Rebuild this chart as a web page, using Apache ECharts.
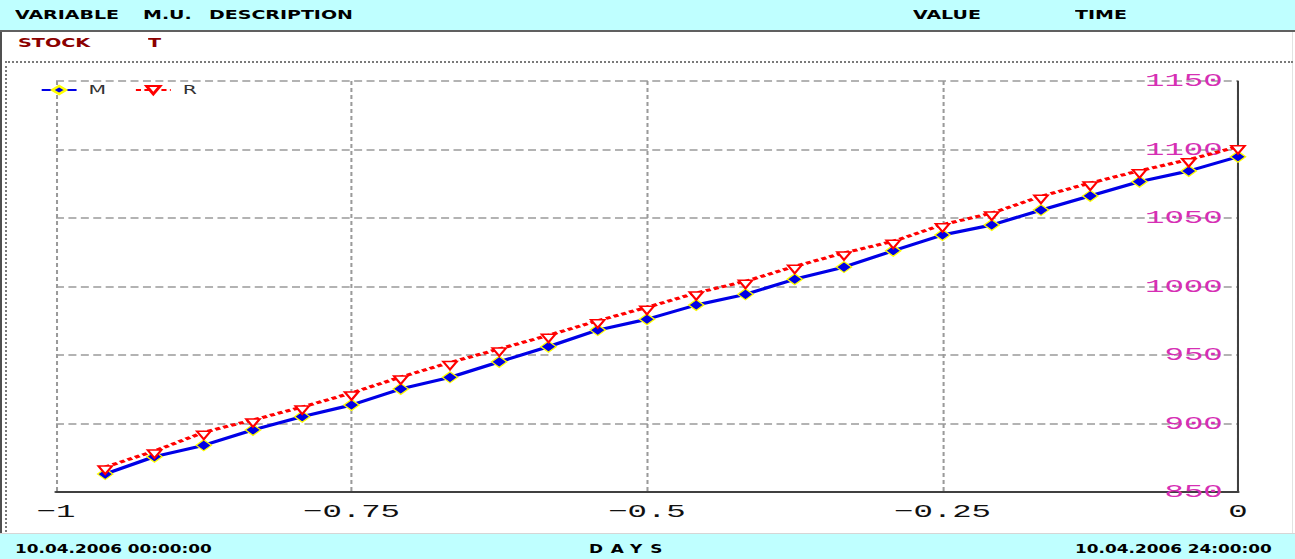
<!DOCTYPE html>
<html>
<head>
<meta charset="utf-8">
<script src="https://cdn.jsdelivr.net/npm/echarts@6/dist/echarts.min.js"></script>
<style>
  html, body { margin: 0; padding: 0; background: #fff; overflow: hidden; }
  #page { position: relative; width: 1295px; height: 559px; overflow: hidden; background: #fff; font-family: "DejaVu Sans", sans-serif; }
  .band { position: absolute; left: 0; width: 1295px; background: #bfffff; }
  #head { top: 0; height: 30px; border-bottom: 2px solid #606060; z-index: 2; }
  #foot { top: 533px; height: 26px; border-top: 1px solid #d6d6d6; }
  #frame { position: absolute; left: 5px; top: 61px; width: 1288px; height: 471px; border-top: 2px dotted #7a7a7a; border-left: 2px dotted #7a7a7a; box-sizing: border-box; }
  #edge { position: absolute; left: 0; top: 32px; width: 2px; height: 501px; background: #505050; }
  #redge { position: absolute; left: 1292px; top: 32px; width: 1px; height: 501px; background: #e2e2e2; }
  .t { position: absolute; white-space: nowrap; transform-origin: 0 50%; font-weight: bold; line-height: 1; z-index: 3; }
  .h { font-size: 11.5px; color: #000; top: 9.5px; transform: scaleX(1.65); }
  .s { font-size: 12px; color: #8b0000; top: 36.5px; transform: scaleX(1.6); }
  .f { font-size: 13px; color: #000; top: 541.8px; transform: scaleX(1.3); }
  #chart { position: absolute; left: 0; top: 0; width: 761px; height: 559px; transform: scaleX(1.7017); transform-origin: 0 0; clip-path: inset(60px 0 27px 0); z-index: 1; }
</style>
</head>
<body>
<div id="page">
  <div id="head" class="band"></div>
  <div id="foot" class="band"></div>
  <div id="edge"></div>
  <div id="redge"></div>
  <div id="frame"></div>

  <span class="t h" style="left:15px">VARIABLE</span>
  <span class="t h" style="left:143px">M.U.</span>
  <span class="t h" style="left:209px">DESCRIPTION</span>
  <span class="t h" style="left:913px">VALUE</span>
  <span class="t h" style="left:1075px">TIME</span>

  <span class="t s" style="left:18px">STOCK</span>
  <span class="t s" style="left:148px">T</span>

  <span class="t f" style="left:15px">10.04.2006 00:00:00</span>
  <span class="t f" style="left:589px; letter-spacing:6px">DAYS</span>
  <span class="t f" style="left:1075px">10.04.2006 24:00:00</span>

  <div id="chart"></div>
</div>

<script>
// Time of each sample, in days before the end of the run (hourly steps)
const dayOffsets = [
  -0.95833, -0.91667, -0.875, -0.83333, -0.79167, -0.75,
  -0.70833, -0.66667, -0.625, -0.58333, -0.54167, -0.5,
  -0.45833, -0.41667, -0.375, -0.33333, -0.29167, -0.25,
  -0.20833, -0.16667, -0.125, -0.08333, -0.04167, 0
];

// Stock level, series M
const stockM = [
  863.1, 875.8, 884.1, 895.3, 905.0, 913.5,
  925.2, 933.7, 945.0, 956.1, 968.2, 976.1,
  986.5, 994.3, 1005.3, 1014.2, 1026.1, 1037.6,
  1044.9, 1055.8, 1066.1, 1076.5, 1084.3, 1094.7
];

// Stock level, series R
const stockR = [
  868.2, 879.9, 893.6, 902.6, 912.0, 922.3,
  933.9, 944.5, 954.4, 964.4, 975.0, 984.8,
  995.3, 1003.8, 1014.7, 1024.5, 1033.0, 1045.1,
  1053.6, 1065.8, 1075.5, 1084.5, 1092.6, 1102.0
];

// Axis tick values
const dayTicks = [-1, -0.75, -0.5, -0.25, 0];
const stockTicks = [850, 900, 950, 1000, 1050, 1100, 1150];

const labelFont = '"Liberation Mono", "DejaVu Sans Mono", monospace';

const chart = echarts.init(document.getElementById('chart'), null, { renderer: 'svg' });

chart.setOption({
  animation: false,
  backgroundColor: 'transparent',
  grid: { left: 32.9, right: 33.5, top: 81, bottom: 67, containLabel: false },
  legend: {
    left: 23.5,
    top: 84,
    padding: 0,
    itemWidth: 20.5,
    itemHeight: 10,
    itemGap: 16.5,
    data: ['M', 'R'],
    textStyle: { fontFamily: '"DejaVu Sans", sans-serif', fontSize: 12, color: '#333', padding: [0, 0, 0, 2] }
  },
  xAxis: {
    type: 'value',
    min: dayTicks[0],
    max: dayTicks[dayTicks.length - 1],
    interval: dayTicks[1] - dayTicks[0],
    axisLine: { show: true, onZero: false, lineStyle: { color: '#404040', width: 2 } },
    axisTick: { show: false },
    axisLabel: {
      margin: 10,
      color: '#111',
      fontFamily: labelFont,
      fontSize: 19,
      formatter: v => (v < 0 ? '\u2212' : '') + Math.abs(v)
    },
    splitLine: { show: true, lineStyle: { color: '#9a9a9a', width: 1.2, type: [4, 3] } }
  },
  yAxis: {
    type: 'value',
    position: 'right',
    min: stockTicks[0],
    max: stockTicks[stockTicks.length - 1],
    interval: stockTicks[1] - stockTicks[0],
    axisLine: { show: true, lineStyle: { color: '#404040', width: 1.2 } },
    axisTick: { show: false },
    axisLabel: {
      inside: true,
      margin: 9,
      color: '#d62fb4',
      fontFamily: labelFont,
      fontSize: 19,
      formatter: v => String(v)
    },
    splitLine: { show: true, lineStyle: { color: '#9a9a9a', width: 1.5, type: [4.7, 2.6] } }
  },
  series: [
    {
      name: 'M',
      type: 'line',
      data: dayOffsets.map((d, i) => [d, stockM[i]]),
      symbol: 'diamond',
      symbolSize: [9, 11],
      lineStyle: { color: '#0000e6', width: 3 },
      itemStyle: { color: '#0000e6', borderColor: '#ffff00', borderWidth: 1 },
      z: 3
    },
    {
      name: 'R',
      type: 'line',
      data: dayOffsets.map((d, i) => [d, stockR[i]]),
      symbol: 'triangle',
      symbolRotate: 180,
      symbolSize: [8, 8],
      symbolOffset: [0, 3],
      lineStyle: { color: '#ff0000', width: 3, type: [3, 2] },
      itemStyle: { color: '#ffffff', borderColor: '#ff0000', borderWidth: 1.5 },
      z: 4
    }
  ]
});
</script>
</body>
</html>
